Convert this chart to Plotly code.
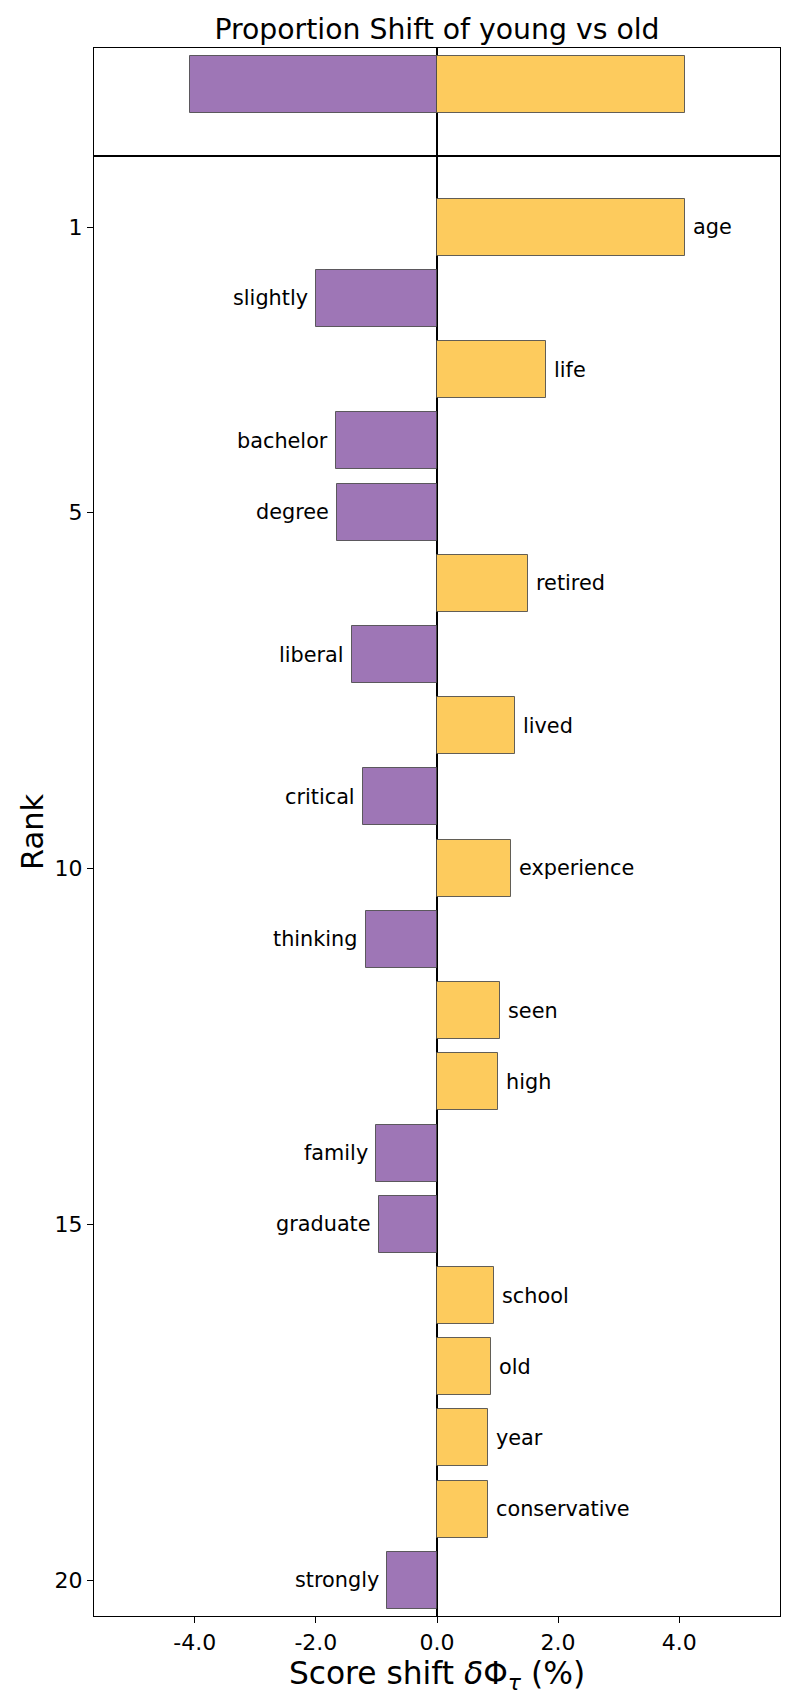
import plotly.graph_objects as go

# ---- data ----
words = ["age", "slightly", "life", "bachelor", "degree", "retired", "liberal",
         "lived", "critical", "experience", "thinking", "seen", "high", "family",
         "graduate", "school", "old", "year", "conservative", "strongly"]
ranks = [1, 2, 3, 4, 5, 6, 7, 8, 9, 10, 11, 12, 13, 14, 15, 16, 17, 18, 19, 20]
shifts = [4.09, -2.00, 1.80, -1.66, -1.65, 1.51, -1.40, 1.28, -1.23, 1.23,
          -1.17, 1.04, 1.01, -1.00, -0.95, 0.94, 0.89, 0.85, 0.84, -0.83]
total_labels = ["young total", "old total"]
total_values = [-4.08, 4.09]
x_tickvals = [-4, -2, 0, 2, 4]
x_ticktext = ["-4.0", "-2.0", "0.0", "2.0", "4.0"]
y_tickvals = [1, 5, 10, 15, 20]
y_ticktext = ["1", "5", "10", "15", "20"]

PURPLE = "#9E76B6"
YELLOW = "#FDCB5D"
EDGE = "rgba(70,70,70,0.85)"
FONT = "DejaVu Sans"

def col(v):
    return YELLOW if v > 0 else PURPLE

fig = go.Figure()

# top summary panel
fig.add_trace(go.Bar(
    x=total_values, y=[0, 0], orientation="h", width=0.8,
    marker=dict(color=[col(v) for v in total_values], line=dict(color=EDGE, width=1)),
    xaxis="x2", yaxis="y2", showlegend=False, hovertext=total_labels,
    hoverinfo="text+x",
))

# main ranked panel
fig.add_trace(go.Bar(
    x=shifts, y=ranks, orientation="h", width=0.8,
    marker=dict(color=[col(v) for v in shifts], line=dict(color=EDGE, width=1)),
    xaxis="x", yaxis="y", showlegend=False,
    hovertext=words, hoverinfo="text+x",
))

annotations = []
for w, r, v in zip(words, ranks, shifts):
    annotations.append(dict(
        x=v, y=r, xref="x", yref="y", text=w, showarrow=False,
        xanchor="left" if v > 0 else "right", yanchor="middle",
        xshift=6 if v > 0 else -6,
        font=dict(family=FONT, size=20.8, color="black"),
    ))

# shared y label "Rank" centered across both panels
annotations.append(dict(
    x=0, y=0.5, xref="paper", yref="paper", text="Rank", showarrow=False,
    textangle=-90, xanchor="center", yanchor="middle", xshift=-62,
    font=dict(family=FONT, size=30.5, color="black"),
))

XR = [-5.664, 5.664]
split = 1 - 108 / 1568

axis_common = dict(showline=True, mirror=True, linecolor="black", linewidth=1.3,
                   showgrid=False)

fig.update_layout(
    width=789, height=1700,
    margin=dict(l=86, r=17, t=40, b=92),
    paper_bgcolor="white", plot_bgcolor="white",
    bargap=0,
    title=dict(text="Proportion Shift of young vs old", x=0.5, xref="paper",
               xanchor="center", y=1 - 21 / 1700, yref="container", yanchor="middle",
               font=dict(family=FONT, size=28.3, color="black")),
    xaxis=dict(**axis_common, domain=[0, 1], anchor="y", range=XR,
               zeroline=True, zerolinecolor="black", zerolinewidth=1.5,
               layer="above traces",
               tickvals=x_tickvals, ticktext=x_ticktext, ticks="outside",
               ticklen=6, tickwidth=1.3, tickcolor="black",
               tickfont=dict(family=FONT, size=22, color="black"),
               title=dict(text="Score shift <i>δ</i>Φ<sub><i>τ</i></sub> (%)",
                          standoff=5, font=dict(family=FONT, size=31.3, color="black"))),
    yaxis=dict(**axis_common, domain=[0, split], anchor="x", range=[20.5, 0],
               zeroline=False,
               tickvals=y_tickvals, ticktext=y_ticktext, ticks="outside",
               ticklen=6, tickwidth=1.3, tickcolor="black",
               tickfont=dict(family=FONT, size=22, color="black")),
    xaxis2=dict(**axis_common, domain=[0, 1], anchor="y2", range=XR, matches="x",
                zeroline=True, zerolinecolor="black", zerolinewidth=1.5,
                layer="above traces",
                showticklabels=False, ticks=""),
    yaxis2=dict(**axis_common, domain=[split, 1], anchor="x2", range=[1.0, -0.51],
                zeroline=False, showticklabels=False, ticks=""),
    annotations=annotations,
)

fig.write_html("out.html")
